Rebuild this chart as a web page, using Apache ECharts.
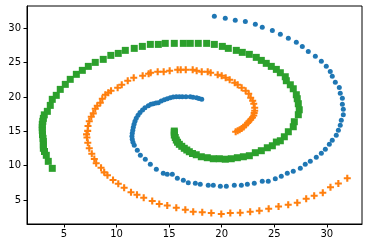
<!DOCTYPE html>
<html>
<head>
<meta charset="utf-8">
<script src="https://cdn.jsdelivr.net/npm/echarts@6/dist/echarts.min.js"></script>
<style>html,body{margin:0;padding:0;background:#fff;}#c{width:368px;height:248px;}</style>
</head>
<body>
<div id="c"></div>
<script>
const xTicks = [5, 10, 15, 20, 25, 30];
const yTicks = [5, 10, 15, 20, 25, 30];

const blueX = [19.30,20.34,21.29,22.25,23.20,23.86,24.82,25.58,26.34,27.10,
27.67,28.24,28.91,29.48,29.95,30.33,30.52,30.81,31.19,31.28,
31.48,31.48,31.57,31.57,31.38,31.28,31.10,30.90,30.52,30.24,
29.86,29.48,29.00,28.43,27.95,27.48,26.81,26.24,25.67,25.10,
24.43,23.86,23.10,22.44,21.87,21.20,20.44,19.87,19.20,18.72,
17.96,17.49,16.82,16.35,15.78,15.30,14.82,14.44,13.78,13.21,
12.73,12.26,11.97,11.68,11.56,11.49,11.46,11.49,11.54,11.59,
11.66,11.75,11.87,12.04,12.23,12.47,12.70,13.02,13.27,13.49,
13.75,13.97,14.25,14.54,14.82,15.11,15.39,15.68,15.97,16.25,
16.60,17.01,17.27,17.62,17.84,18.10];
const blueY = [31.74,31.45,31.16,31.01,30.58,30.14,29.70,29.12,28.54,27.96,
27.37,26.64,25.92,25.19,24.46,23.73,23.01,22.13,21.40,20.53,
19.80,18.93,18.20,17.42,16.60,15.87,15.15,14.42,13.69,13.11,
12.38,11.80,11.22,10.63,10.20,9.61,9.18,8.89,8.45,8.10,
7.72,7.72,7.43,7.29,7.14,7.14,6.99,6.99,7.14,7.14,
7.29,7.43,7.52,7.87,8.16,8.74,8.74,8.89,9.47,10.20,
10.92,11.51,12.23,12.96,13.40,13.84,14.27,14.71,15.15,15.58,
16.02,16.46,16.89,17.33,17.74,18.10,18.42,18.73,18.93,19.02,
19.13,19.16,19.41,19.60,19.74,19.89,19.99,20.04,20.04,20.04,
20.04,20.04,19.96,19.89,19.78,19.66];

const orangeX = [31.95,31.10,30.35,29.62,28.80,28.04,27.19,26.33,25.41,24.47,
23.58,22.71,21.76,20.82,19.96,19.01,18.15,17.29,16.54,15.68,
14.82,14.06,13.39,12.58,11.94,11.37,10.72,10.16,9.66,9.13,
8.82,8.52,8.06,7.88,7.64,7.40,7.26,7.18,7.14,7.25,
7.28,7.40,7.59,7.78,7.97,8.16,8.45,8.64,8.93,9.21,
9.47,10.10,10.49,11.06,11.63,12.48,13.05,13.24,13.91,14.48,
15.05,15.81,16.10,16.58,17.24,17.62,18.10,18.67,18.95,19.62,
20.00,20.38,20.76,21.24,21.52,21.90,22.28,22.57,22.76,22.95,
23.05,23.14,23.14,23.09,23.05,22.93,22.76,22.60,22.47,22.28,
22.09,21.90,21.71,21.52,21.33];
const orangeY = [8.16,7.40,6.85,6.06,5.63,5.19,4.61,4.32,4.05,3.72,
3.44,3.30,3.15,3.11,2.96,3.11,3.22,3.30,3.59,3.88,
4.20,4.42,4.85,5.33,5.76,6.14,6.79,7.37,7.91,8.61,
9.03,9.69,10.36,10.97,11.74,12.53,13.33,14.10,14.56,15.07,
15.77,16.46,17.13,17.62,18.29,18.73,19.16,19.75,20.33,20.62,
20.91,21.35,21.78,22.37,22.80,23.09,23.38,23.53,23.68,23.68,
23.82,23.97,23.97,23.97,23.97,23.82,23.68,23.68,23.53,23.24,
23.09,22.80,22.51,22.07,21.78,21.35,20.91,20.47,19.89,19.45,
19.02,18.44,18.00,17.66,17.30,17.01,16.72,16.46,16.21,15.92,
15.63,15.41,15.23,15.09,14.94];

const greenX = [3.88,3.50,3.31,3.14,3.03,3.03,3.03,3.00,2.95,2.93,
2.93,2.93,2.98,3.03,3.12,3.41,3.69,3.88,4.26,4.64,
5.12,5.59,6.17,6.74,7.31,7.97,8.73,9.45,10.16,10.83,
11.68,12.45,13.21,13.97,14.63,15.49,16.35,17.01,17.77,18.57,
19.30,20.06,20.63,21.39,21.96,22.63,23.29,23.77,24.24,24.72,
25.20,25.58,26.05,26.15,26.53,26.81,27.10,27.19,27.29,27.38,
27.29,26.91,26.81,26.34,25.96,25.58,25.20,24.82,24.34,23.77,
23.20,22.63,22.06,21.49,20.91,20.34,19.77,19.20,18.63,18.06,
17.58,17.22,16.92,16.68,16.44,16.20,15.97,15.80,15.68,15.58,
15.49,15.49,15.49];
const greenY = [9.61,10.63,11.51,12.06,12.53,13.01,13.52,13.98,14.53,15.15,
15.58,16.02,16.46,16.89,17.40,17.91,18.78,19.66,20.24,21.11,
21.84,22.57,23.30,23.88,24.46,25.04,25.48,26.06,26.35,26.79,
27.08,27.37,27.66,27.66,27.81,27.81,27.81,27.81,27.81,27.81,
27.66,27.37,27.08,26.79,26.50,26.21,25.77,25.33,24.90,24.46,
24.02,23.53,22.95,22.37,21.78,21.20,20.33,19.75,19.02,18.14,
17.42,16.40,15.67,14.94,14.21,13.63,13.44,12.90,12.61,12.18,
11.89,11.45,11.30,11.16,11.01,10.94,11.01,11.01,11.16,11.30,
11.59,11.77,12.03,12.28,12.53,12.82,13.11,13.41,13.73,14.10,
14.46,14.83,15.04];

function pairs(xs, ys) { return xs.map((x, i) => [x, ys[i]]); }

const plusPath = 'path://M3.5,0H6.5V3.5H10V6.5H6.5V10H3.5V6.5H0V3.5H3.5Z';
const font = 'DejaVu Sans';

const chart = echarts.init(document.getElementById('c'), null, {renderer: 'canvas'});
chart.setOption({
  animation: false,
  backgroundColor: '#fff',
  grid: {left: 27, top: 6, width: 335, height: 218, show: true, borderColor: '#000', borderWidth: 1, backgroundColor: 'transparent'},
  xAxis: {
    type: 'value', min: 1.475, max: 33.35,
    splitLine: {show: false},
    axisLine: {show: true, lineStyle: {color: '#000', width: 1}},
    axisTick: {show: true, customValues: xTicks, length: 3.5, lineStyle: {color: '#000', width: 1}},
    axisLabel: {customValues: xTicks, fontSize: 10, color: '#000', margin: 5, fontFamily: font}
  },
  yAxis: {
    type: 'value', min: 1.507, max: 33.25,
    splitLine: {show: false},
    axisLine: {show: true, lineStyle: {color: '#000', width: 1}},
    axisTick: {show: true, customValues: yTicks, length: 3.5, lineStyle: {color: '#000', width: 1}},
    axisLabel: {customValues: yTicks, fontSize: 10, color: '#000', margin: 6, fontFamily: font}
  },
  series: [
    {type: 'scatter', data: pairs(blueX, blueY), symbol: 'circle', symbolSize: 5, itemStyle: {color: '#1f77b4', opacity: 1}},
    {type: 'scatter', data: pairs(orangeX, orangeY), symbol: plusPath, symbolSize: 7, itemStyle: {color: '#ff7f0e', opacity: 1}},
    {type: 'scatter', data: pairs(greenX, greenY), symbol: 'rect', symbolSize: 7, itemStyle: {color: '#2ca02c', opacity: 1}}
  ]
});
</script>
</body>
</html>
